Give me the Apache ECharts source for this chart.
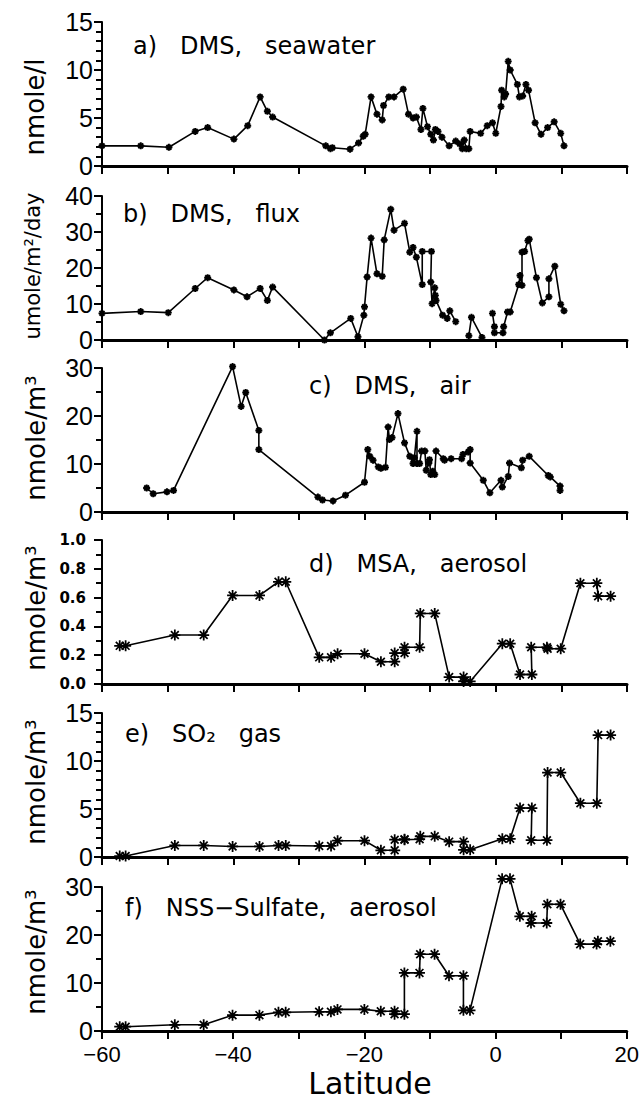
<!DOCTYPE html>
<html><head><meta charset="utf-8">
<script src="https://cdn.jsdelivr.net/npm/echarts@6/dist/echarts.min.js"></script>
<style>html,body{margin:0;padding:0;background:#fff}#c{width:642px;height:1100px}</style>
</head><body><div id="c"></div>
<script>
// ---- data (latitude, value) ----
const seawaterLat = [-60.0,-54.1,-49.8,-45.8,-43.9,-39.9,-37.8,-35.9,-34.8,-34.0,-25.9,-25.2,-24.9,-22.2,-20.9,-20.2,-19.9,-19.0,-18.1,-17.3,-17.1,-16.3,-15.5,-14.1,-13.3,-12.6,-12.1,-11.4,-11.1,-10.4,-9.9,-9.5,-9.2,-8.8,-8.2,-7.1,-6.1,-5.5,-5.1,-4.8,-4.5,-4.1,-3.9,-2.3,-1.3,-0.5,0.0,0.8,0.9,1.3,1.5,1.9,2.2,3.3,3.6,4.1,4.6,5.0,6.0,6.9,7.9,8.9,9.9,10.4];
const seawaterVal = [2.1,2.1,1.95,3.6,4.0,2.8,4.2,7.2,5.7,5.1,2.1,1.8,1.9,1.75,2.4,3.1,3.3,7.2,5.4,4.8,6.3,7.2,7.2,8.0,5.4,5.0,5.1,3.8,6.0,4.1,3.3,2.7,3.8,3.6,3.0,2.1,2.6,2.3,1.8,2.7,1.8,1.8,3.6,3.4,4.2,4.5,3.4,6.2,7.9,7.2,7.5,10.9,10.0,8.5,7.2,7.3,8.5,7.9,4.5,3.3,4.0,4.6,3.4,2.1];

const fluxLat = [-60.0,-54.1,-49.9,-45.8,-43.9,-39.9,-37.9,-35.9,-34.8,-34.0,-26.1,-25.2,-22.1,-21.0,-20.1,-20.0,-19.6,-19.0,-18.1,-17.3,-17.0,-16.0,-15.5,-13.9,-13.1,-12.6,-12.1,-11.2,-11.2,-9.8,-9.9,-9.7,-9.3,-9.2,-9.1,-8.1,-7.4,-7.0,-6.1,null,-4.1,-3.7,-2.1,null,-0.5,-0.2,-0.2,1.1,1.2,1.8,2.2,3.5,3.7,4.0,4.0,4.4,4.9,5.1,6.2,7.1,8.1,8.1,9.0,9.9,10.4];
const fluxVal = [7.4,7.9,7.6,14.3,17.3,13.9,12.0,14.3,11.0,14.7,0.0,2.0,6.0,0.9,6.9,9.2,17.5,28.3,18.4,17.7,27.8,36.3,30.5,32.4,24.4,25.7,23.0,15.4,24.6,24.6,16.1,10.1,14.5,12.4,11.0,6.9,6.0,8.1,5.1,null,1.2,6.3,0.7,null,7.4,3.7,2.0,2.0,3.7,7.8,7.8,15.4,17.9,15.2,24.4,24.6,27.6,28.0,17.3,10.3,12.0,17.0,20.5,9.9,8.1];

const airLat = [-53.2,-52.2,-50.1,-49.1,-40.1,-38.8,-38.1,-36.1,-36.1,-27.1,-26.4,-24.8,-22.9,-20.0,-19.5,-19.2,-18.7,-17.9,-17.5,-16.8,-16.4,-16.2,-15.8,-14.9,-13.9,-13.1,-12.6,-12.4,-12.0,-12.0,-11.6,-11.3,-10.8,-10.6,-10.2,-10.1,-9.9,-9.6,-9.3,-9.1,-8.0,-7.8,-6.8,-5.2,-5.0,-4.2,-3.9,-3.9,-1.9,-0.9,0.8,1.0,1.9,2.1,3.9,4.1,5.1,8.0,8.3,9.8,9.8];
const airVal = [5.0,3.8,4.2,4.5,30.3,22.0,24.9,17.0,13.0,3.1,2.5,2.3,3.5,6.2,13.0,11.6,10.8,9.4,9.1,9.3,17.7,15.1,15.5,20.5,14.4,11.6,10.1,11.3,16.8,10.1,10.1,12.7,12.7,8.7,10.2,10.9,7.8,8.5,7.8,12.7,11.1,10.8,11.1,11.1,12.0,12.5,13.0,10.2,6.6,4.0,6.6,5.2,7.4,10.2,9.2,10.8,11.6,7.6,7.3,5.4,4.5];

// aerosol / gas sampling intervals (start and end latitude of each sample)
const sampleStart = [-57.3,-48.9,-40.1,-33.1,-26.9,-24.1,-17.5,-15.4,-13.9,-11.5,-7.1,-4.9,1.0,3.7,5.4,7.9,12.9,15.6];
const sampleEnd   = [-56.4,-44.5,-36.0,-32.0,-25.1,-20.0,-15.4,-13.9,-11.6,-9.3,-4.9,-3.9,2.2,5.5,7.8,9.9,15.4,17.5];
const msaVal = [0.265,0.34,0.615,0.71,0.185,0.21,0.155,0.215,0.255,0.49,0.048,0.018,0.28,0.066,0.255,0.245,0.70,0.61];
const so2Val = [0.1,1.2,1.1,1.2,1.15,1.7,0.7,1.8,1.85,2.15,1.6,0.75,1.9,5.1,1.75,8.8,5.6,12.7];
const nssVal = [0.9,1.3,3.3,3.9,4.0,4.5,4.1,3.5,12.1,16.0,11.5,4.3,31.7,23.9,22.5,26.4,18.1,18.7];

const xTickLabels = [-60,-40,-20,0,20];

// ---- build series data ----
function zip(lat, val){ return lat.map((x,i)=> (x===null||val[i]===null) ? ['-','-'] : [x, val[i]]); }
function intervals(val){ const out=[]; val.forEach((v,i)=>{ out.push([sampleStart[i], v]); out.push([sampleEnd[i], v]); }); return out; }

const THIN_AST = 'path://M-0.8,-5L0.8,-5L0.8,5L-0.8,5Z M-5,-0.8L5,-0.8L5,0.8L-5,0.8Z M-4.1,-3.0L-3.0,-4.1L4.1,3.0L3.0,4.1Z M3.0,-4.1L4.1,-3.0L-3.0,4.1L-4.1,3.0Z';
const THICK_AST = 'path://M-1.4,-5L1.4,-5L1.4,5L-1.4,5Z M-5,-1.4L5,-1.4L5,1.4L-5,1.4Z M-4.5,-2.5L-2.5,-4.5L4.5,2.5L2.5,4.5Z M2.5,-4.5L4.5,-2.5L-2.5,4.5L-4.5,2.5Z';

const panels = [
  {data: zip(seawaterLat, seawaterVal), max:15, interval:5, minor:5, sym:THICK_AST, size:7},
  {data: zip(fluxLat, fluxVal), max:40, interval:10, minor:2, sym:THICK_AST, size:7},
  {data: zip(airLat, airVal), max:30, interval:10, minor:2, sym:THICK_AST, size:7},
  {data: intervals(msaVal), max:1.0, interval:0.2, minor:2, sym:THIN_AST, size:11, small:true},
  {data: intervals(so2Val), max:15, interval:5, minor:5, sym:THIN_AST, size:11},
  {data: intervals(nssVal), max:30, interval:10, minor:2, sym:THIN_AST, size:11}
];
const bottoms = [166, 340, 512, 684, 857, 1031];
const H = 144;

const grid=[], xAxis=[], yAxis=[], series=[];
panels.forEach((p,i)=>{
  grid.push({left:102, width:525, top:bottoms[i]-H, height:H});
  xAxis.push({type:'value', gridIndex:i, min:-60, max:20, interval:10,
    axisLine:{onZero:false, lineStyle:{color:'#000', width:3}},
    axisTick:{inside:false, length:8, lineStyle:{color:'#000', width:2}},
    splitLine:{show:false},
    axisLabel:{show:i===5, margin:12, color:'#000', fontSize:22, fontFamily:'Liberation Sans',
      formatter:(v)=> xTickLabels.indexOf(v)>=0 ? String(v).replace('-', '\u2212') : ''}
  });
  yAxis.push({type:'value', gridIndex:i, min:0, max:p.max, interval:p.interval,
    axisLine:{show:true, onZero:false, lineStyle:{color:'#000', width:2}},
    axisTick:{show:true, inside:false, length:8, lineStyle:{color:'#000', width:2}},
    minorTick:{show:true, splitNumber:p.minor, length:6, lineStyle:{color:'#000', width:2}},
    splitLine:{show:false}, minorSplitLine:{show:false},
    axisLabel: p.small
      ? {color:'#000', fontSize:15, fontWeight:'bold', fontFamily:'DejaVu Sans', margin:16, formatter:(v)=>v.toFixed(1)}
      : {color:'#000', fontSize:25, fontFamily:'Liberation Sans', margin:9}
  });
  series.push({type:'line', xAxisIndex:i, yAxisIndex:i, data:p.data, clip:false,
    symbol:p.sym, symbolSize:p.size, showSymbol:true, connectNulls:false,
    lineStyle:{color:'#000', width:1.6}, itemStyle:{color:'#000'}, animation:false});
});

function txt(x, y, text, size, opts){
  opts = opts || {};
  return {type:'text', x:x, y:y, rotation: opts.rot||0, z:10,
    style:{text:text, fill:'#000', fontSize:size, lineHeight:size, fontFamily: opts.family||'DejaVu Sans',
      textAlign: opts.align||'left', align: opts.align||'left',
      textVerticalAlign:'middle', verticalAlign:'middle'}};
}
const graphic = [
  txt(133, 46, 'a)   DMS,   seawater', 24),
  txt(123, 214, 'b)   DMS,   flux', 24),
  txt(309, 386, 'c)   DMS,   air', 24),
  txt(309, 564, 'd)   MSA,   aerosol', 24),
  txt(125, 734, 'e)   SO\u2082   gas', 24),
  txt(125, 908, 'f)   NSS\u2212Sulfate,   aerosol', 24),
  txt(35, 107, 'nmole/l', 26, {rot:Math.PI/2, align:'center'}),
  txt(33, 266, 'umole/m\u00b2/day', 21, {rot:Math.PI/2, align:'center'}),
  txt(36, 438, 'nmole/m\u00b3', 26, {rot:Math.PI/2, align:'center'}),
  txt(36, 608, 'nmole/m\u00b3', 26, {rot:Math.PI/2, align:'center'}),
  txt(36, 782, 'nmole/m\u00b3', 26, {rot:Math.PI/2, align:'center'}),
  txt(36, 952, 'nmole/m\u00b3', 26, {rot:Math.PI/2, align:'center'}),
  txt(370, 1083, 'Latitude', 30, {align:'center'})
];

const chart = echarts.init(document.getElementById('c'), null, {renderer:'svg'});
chart.setOption({backgroundColor:'#fff', animation:false, grid, xAxis, yAxis, series, graphic});
</script>
</body></html>
